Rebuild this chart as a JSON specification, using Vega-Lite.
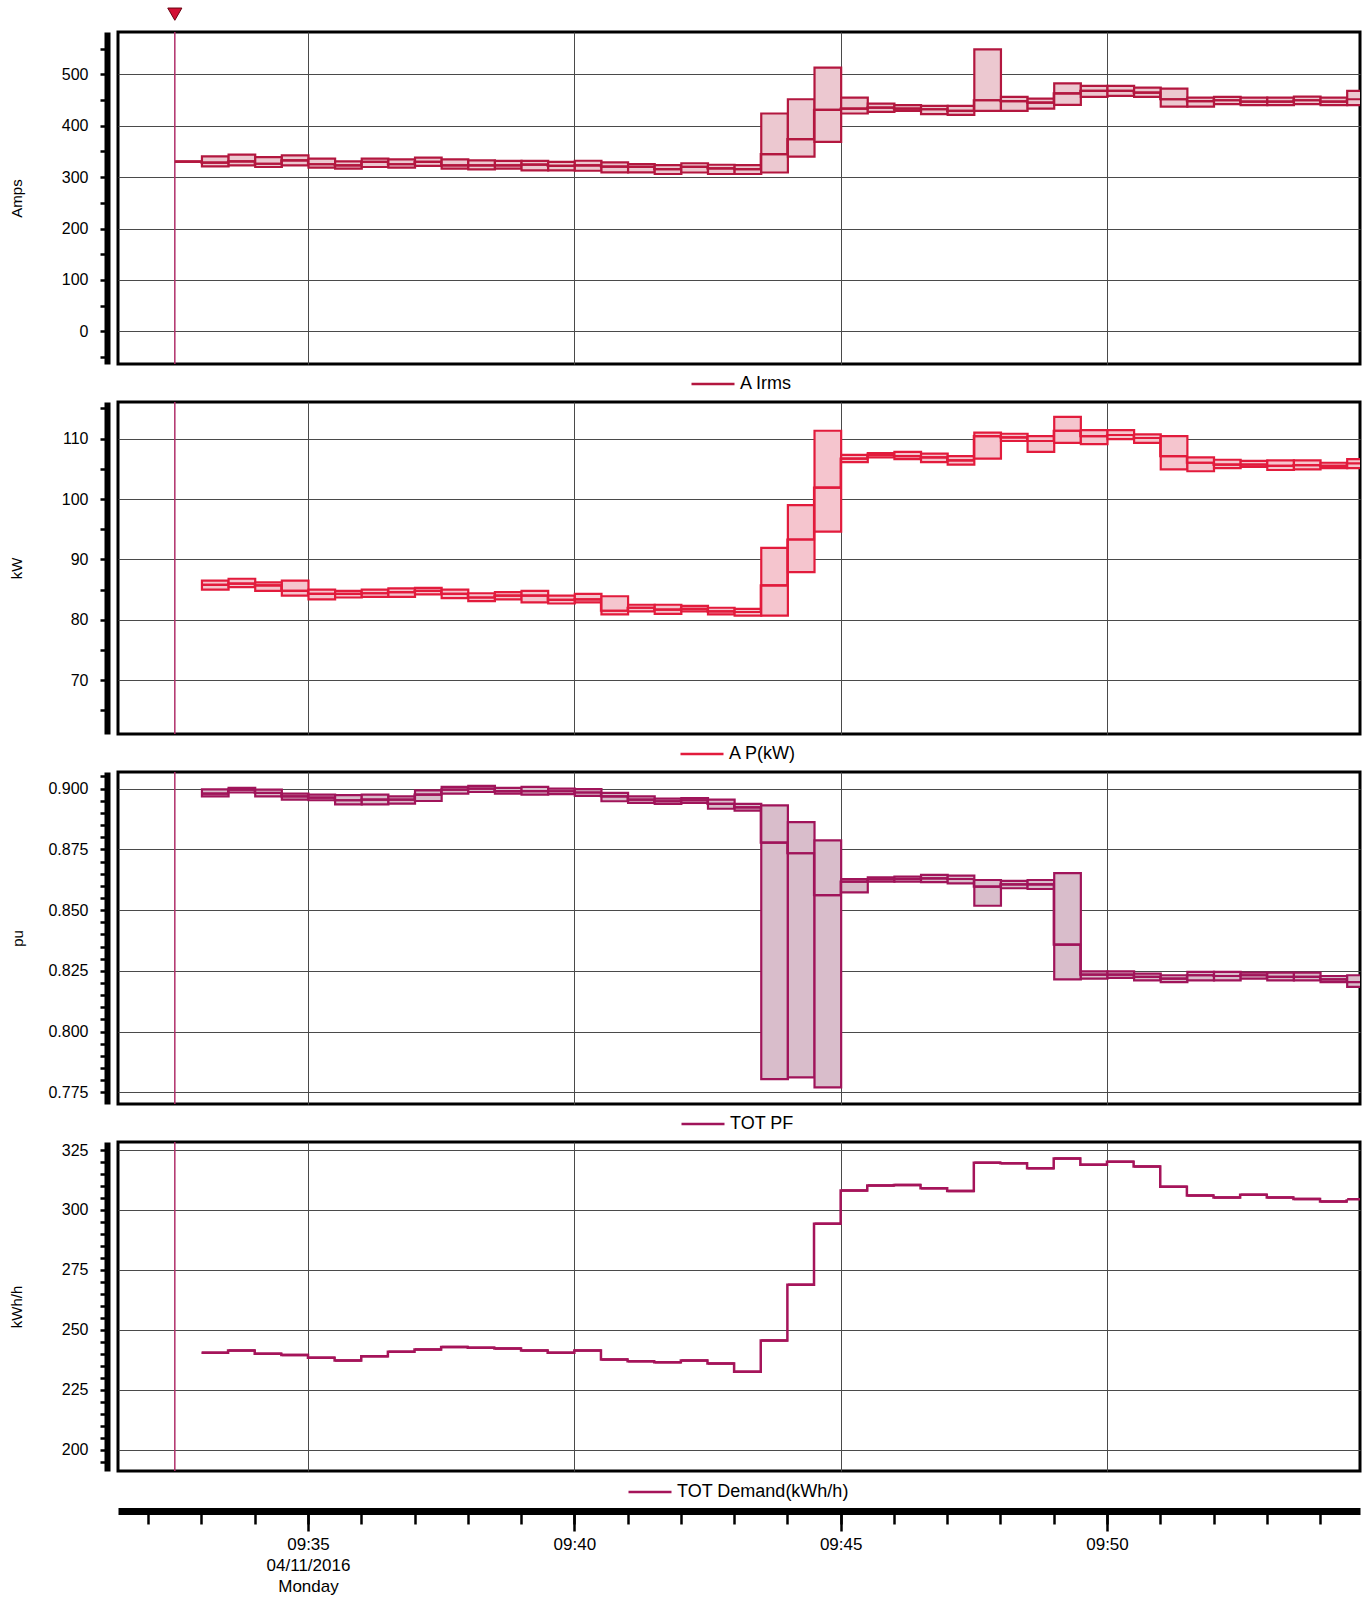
{
"$schema": "https://vega.github.io/schema/vega-lite/v6.json",
"background": "white",
"padding": {"left": 7, "top": 4, "right": 2, "bottom": 4},
"config": {
  "font": "Liberation Sans",
  "view": {"stroke": "black", "strokeWidth": 3},
  "axis": {"labelFont": "Liberation Sans", "titleFont": "Liberation Sans", "labelColor": "black", "titleColor": "black", "titleFontWeight": "normal", "gridColor": "#4a4a4a", "gridWidth": 1, "labelFontSize": 16, "titleFontSize": 15},
  "legend": {"labelFont": "Liberation Sans", "labelFontSize": 18, "labelColor": "black", "symbolType": "stroke", "symbolSize": 1849, "symbolStrokeWidth": 2.5, "labelOffset": 4, "labelLimit": 500}
},
"datasets": {
  "marker": [{"t": "2016-04-11T09:32:30"}],
  "amps": [
    {"t": "2016-04-11T09:32:30", "min": 330, "avg": 330, "max": 330},
    {"t": "2016-04-11T09:33:00", "min": 321, "avg": 328, "max": 340.5},
    {"t": "2016-04-11T09:33:30", "min": 323, "avg": 330.7, "max": 343.7},
    {"t": "2016-04-11T09:34:00", "min": 319.7, "avg": 326, "max": 339},
    {"t": "2016-04-11T09:34:30", "min": 323, "avg": 332.7, "max": 342.4},
    {"t": "2016-04-11T09:35:00", "min": 318.4, "avg": 325, "max": 336},
    {"t": "2016-04-11T09:35:30", "min": 316.5, "avg": 323, "max": 330.7},
    {"t": "2016-04-11T09:36:00", "min": 319.7, "avg": 329.5, "max": 336},
    {"t": "2016-04-11T09:36:30", "min": 318.4, "avg": 325, "max": 334.6},
    {"t": "2016-04-11T09:37:00", "min": 321.7, "avg": 329.5, "max": 338},
    {"t": "2016-04-11T09:37:30", "min": 316.5, "avg": 323, "max": 334.6},
    {"t": "2016-04-11T09:38:00", "min": 315, "avg": 323, "max": 332.7},
    {"t": "2016-04-11T09:38:30", "min": 316.5, "avg": 323, "max": 331.4},
    {"t": "2016-04-11T09:39:00", "min": 313.2, "avg": 324.3, "max": 331.4},
    {"t": "2016-04-11T09:39:30", "min": 313.2, "avg": 321.7, "max": 329.5},
    {"t": "2016-04-11T09:40:00", "min": 312.4, "avg": 323, "max": 331.8},
    {"t": "2016-04-11T09:40:30", "min": 309.2, "avg": 320.2, "max": 328.6},
    {"t": "2016-04-11T09:41:00", "min": 309.2, "avg": 320, "max": 325.3},
    {"t": "2016-04-11T09:41:30", "min": 306, "avg": 315.7, "max": 323.4},
    {"t": "2016-04-11T09:42:00", "min": 309, "avg": 320, "max": 327},
    {"t": "2016-04-11T09:42:30", "min": 306, "avg": 317, "max": 324},
    {"t": "2016-04-11T09:43:00", "min": 306, "avg": 315.7, "max": 323.4},
    {"t": "2016-04-11T09:43:30", "min": 309, "avg": 344.8, "max": 423.7},
    {"t": "2016-04-11T09:44:00", "min": 340, "avg": 374, "max": 451.5},
    {"t": "2016-04-11T09:44:30", "min": 368.7, "avg": 430.8, "max": 513},
    {"t": "2016-04-11T09:45:00", "min": 423.7, "avg": 433.4, "max": 454.7},
    {"t": "2016-04-11T09:45:30", "min": 427, "avg": 435.3, "max": 443},
    {"t": "2016-04-11T09:46:00", "min": 429, "avg": 433.4, "max": 440},
    {"t": "2016-04-11T09:46:30", "min": 422.4, "avg": 432, "max": 438.6},
    {"t": "2016-04-11T09:47:00", "min": 421, "avg": 428.8, "max": 438.6},
    {"t": "2016-04-11T09:47:30", "min": 428.8, "avg": 449.5, "max": 548.5},
    {"t": "2016-04-11T09:48:00", "min": 428.8, "avg": 448, "max": 456},
    {"t": "2016-04-11T09:48:30", "min": 433.4, "avg": 445, "max": 452.8},
    {"t": "2016-04-11T09:49:00", "min": 440.5, "avg": 463, "max": 482.5},
    {"t": "2016-04-11T09:49:30", "min": 456, "avg": 467.6, "max": 477.4},
    {"t": "2016-04-11T09:50:00", "min": 458, "avg": 467.6, "max": 477.4},
    {"t": "2016-04-11T09:50:30", "min": 456, "avg": 464.4, "max": 474},
    {"t": "2016-04-11T09:51:00", "min": 437, "avg": 451.5, "max": 472},
    {"t": "2016-04-11T09:51:30", "min": 437, "avg": 448, "max": 454.7},
    {"t": "2016-04-11T09:52:00", "min": 441.8, "avg": 449.5, "max": 456},
    {"t": "2016-04-11T09:52:30", "min": 440, "avg": 447, "max": 454.7},
    {"t": "2016-04-11T09:53:00", "min": 440, "avg": 447, "max": 454.7},
    {"t": "2016-04-11T09:53:30", "min": 441.8, "avg": 449.5, "max": 456.7},
    {"t": "2016-04-11T09:54:00", "min": 440, "avg": 447, "max": 454.7},
    {"t": "2016-04-11T09:54:30", "min": 440, "avg": 451.5, "max": 467.7}
  ],
  "kw": [
    {"t": "2016-04-11T09:33:00", "min": 85.0, "avg": 85.8, "max": 86.5},
    {"t": "2016-04-11T09:33:30", "min": 85.4, "avg": 86.0, "max": 86.8},
    {"t": "2016-04-11T09:34:00", "min": 84.8, "avg": 85.7, "max": 86.2},
    {"t": "2016-04-11T09:34:30", "min": 84.0, "avg": 84.8, "max": 86.5},
    {"t": "2016-04-11T09:35:00", "min": 83.4, "avg": 84.3, "max": 85.0},
    {"t": "2016-04-11T09:35:30", "min": 83.7, "avg": 84.3, "max": 84.8},
    {"t": "2016-04-11T09:36:00", "min": 83.8, "avg": 84.4, "max": 85.0},
    {"t": "2016-04-11T09:36:30", "min": 83.8, "avg": 84.6, "max": 85.2},
    {"t": "2016-04-11T09:37:00", "min": 84.2, "avg": 84.8, "max": 85.3},
    {"t": "2016-04-11T09:37:30", "min": 83.6, "avg": 84.3, "max": 85.0},
    {"t": "2016-04-11T09:38:00", "min": 83.1, "avg": 83.7, "max": 84.4},
    {"t": "2016-04-11T09:38:30", "min": 83.4, "avg": 84.0, "max": 84.6},
    {"t": "2016-04-11T09:39:00", "min": 82.9, "avg": 84.0, "max": 84.8},
    {"t": "2016-04-11T09:39:30", "min": 82.7, "avg": 83.3, "max": 84.0},
    {"t": "2016-04-11T09:40:00", "min": 82.9, "avg": 83.4, "max": 84.3},
    {"t": "2016-04-11T09:40:30", "min": 80.9, "avg": 81.5, "max": 83.9},
    {"t": "2016-04-11T09:41:00", "min": 81.4, "avg": 82.0, "max": 82.5},
    {"t": "2016-04-11T09:41:30", "min": 81.0, "avg": 81.7, "max": 82.5},
    {"t": "2016-04-11T09:42:00", "min": 81.4, "avg": 81.8, "max": 82.3},
    {"t": "2016-04-11T09:42:30", "min": 80.9, "avg": 81.4, "max": 82.0},
    {"t": "2016-04-11T09:43:00", "min": 80.7, "avg": 81.3, "max": 81.8},
    {"t": "2016-04-11T09:43:30", "min": 80.7, "avg": 85.7, "max": 91.9},
    {"t": "2016-04-11T09:44:00", "min": 87.9, "avg": 93.3, "max": 99.0},
    {"t": "2016-04-11T09:44:30", "min": 94.6, "avg": 101.9, "max": 111.3},
    {"t": "2016-04-11T09:45:00", "min": 106.1, "avg": 106.7, "max": 107.3},
    {"t": "2016-04-11T09:45:30", "min": 106.9, "avg": 107.3, "max": 107.6},
    {"t": "2016-04-11T09:46:00", "min": 106.6, "avg": 107.1, "max": 107.8},
    {"t": "2016-04-11T09:46:30", "min": 106.1, "avg": 106.9, "max": 107.5},
    {"t": "2016-04-11T09:47:00", "min": 105.7, "avg": 106.4, "max": 107.1},
    {"t": "2016-04-11T09:47:30", "min": 106.7, "avg": 110.4, "max": 111.0},
    {"t": "2016-04-11T09:48:00", "min": 109.6, "avg": 110.2, "max": 110.8},
    {"t": "2016-04-11T09:48:30", "min": 107.8, "avg": 109.6, "max": 110.4},
    {"t": "2016-04-11T09:49:00", "min": 109.3, "avg": 111.3, "max": 113.6},
    {"t": "2016-04-11T09:49:30", "min": 109.1, "avg": 110.4, "max": 111.4},
    {"t": "2016-04-11T09:50:00", "min": 109.9, "avg": 110.6, "max": 111.4},
    {"t": "2016-04-11T09:50:30", "min": 109.3, "avg": 110.1, "max": 110.7},
    {"t": "2016-04-11T09:51:00", "min": 104.9, "avg": 107.1, "max": 110.4},
    {"t": "2016-04-11T09:51:30", "min": 104.6, "avg": 106.0, "max": 106.9},
    {"t": "2016-04-11T09:52:00", "min": 105.1, "avg": 105.7, "max": 106.5},
    {"t": "2016-04-11T09:52:30", "min": 105.3, "avg": 105.7, "max": 106.3},
    {"t": "2016-04-11T09:53:00", "min": 104.8, "avg": 105.5, "max": 106.4},
    {"t": "2016-04-11T09:53:30", "min": 104.9, "avg": 105.6, "max": 106.4},
    {"t": "2016-04-11T09:54:00", "min": 105.1, "avg": 105.5, "max": 106.0},
    {"t": "2016-04-11T09:54:30", "min": 105.1, "avg": 105.9, "max": 106.6}
  ],
  "pf": [
    {"t": "2016-04-11T09:33:00", "min": 0.8968, "avg": 0.8979, "max": 0.8997},
    {"t": "2016-04-11T09:33:30", "min": 0.8984, "avg": 0.8996, "max": 0.9003},
    {"t": "2016-04-11T09:34:00", "min": 0.8968, "avg": 0.8982, "max": 0.8996},
    {"t": "2016-04-11T09:34:30", "min": 0.8955, "avg": 0.8968, "max": 0.8979},
    {"t": "2016-04-11T09:35:00", "min": 0.8952, "avg": 0.8963, "max": 0.8975},
    {"t": "2016-04-11T09:35:30", "min": 0.8935, "avg": 0.8952, "max": 0.8973},
    {"t": "2016-04-11T09:36:00", "min": 0.8935, "avg": 0.8955, "max": 0.8975},
    {"t": "2016-04-11T09:36:30", "min": 0.8938, "avg": 0.8955, "max": 0.8968},
    {"t": "2016-04-11T09:37:00", "min": 0.8949, "avg": 0.8975, "max": 0.8993},
    {"t": "2016-04-11T09:37:30", "min": 0.8979, "avg": 0.8996, "max": 0.9007},
    {"t": "2016-04-11T09:38:00", "min": 0.8986, "avg": 0.9000, "max": 0.9011},
    {"t": "2016-04-11T09:38:30", "min": 0.8979, "avg": 0.8990, "max": 0.9003},
    {"t": "2016-04-11T09:39:00", "min": 0.8975, "avg": 0.8990, "max": 0.9007},
    {"t": "2016-04-11T09:39:30", "min": 0.8977, "avg": 0.8989, "max": 0.9000},
    {"t": "2016-04-11T09:40:00", "min": 0.8970, "avg": 0.8984, "max": 0.8998},
    {"t": "2016-04-11T09:40:30", "min": 0.8948, "avg": 0.8968, "max": 0.8982},
    {"t": "2016-04-11T09:41:00", "min": 0.8941, "avg": 0.8955, "max": 0.8968},
    {"t": "2016-04-11T09:41:30", "min": 0.8937, "avg": 0.8948, "max": 0.8959},
    {"t": "2016-04-11T09:42:00", "min": 0.8941, "avg": 0.8952, "max": 0.8961},
    {"t": "2016-04-11T09:42:30", "min": 0.8917, "avg": 0.8937, "max": 0.8955},
    {"t": "2016-04-11T09:43:00", "min": 0.8909, "avg": 0.8923, "max": 0.8937},
    {"t": "2016-04-11T09:43:30", "min": 0.7805, "avg": 0.8778, "max": 0.8931},
    {"t": "2016-04-11T09:44:00", "min": 0.7812, "avg": 0.8734, "max": 0.8862},
    {"t": "2016-04-11T09:44:30", "min": 0.7771, "avg": 0.8562, "max": 0.8787},
    {"t": "2016-04-11T09:45:00", "min": 0.8573, "avg": 0.8617, "max": 0.8628},
    {"t": "2016-04-11T09:45:30", "min": 0.8617, "avg": 0.8627, "max": 0.8635},
    {"t": "2016-04-11T09:46:00", "min": 0.8617, "avg": 0.8628, "max": 0.8638},
    {"t": "2016-04-11T09:46:30", "min": 0.8615, "avg": 0.8631, "max": 0.8645},
    {"t": "2016-04-11T09:47:00", "min": 0.8610, "avg": 0.8628, "max": 0.8642},
    {"t": "2016-04-11T09:47:30", "min": 0.8518, "avg": 0.8597, "max": 0.8624},
    {"t": "2016-04-11T09:48:00", "min": 0.8590, "avg": 0.8606, "max": 0.8620},
    {"t": "2016-04-11T09:48:30", "min": 0.8587, "avg": 0.8606, "max": 0.8624},
    {"t": "2016-04-11T09:49:00", "min": 0.8215, "avg": 0.8358, "max": 0.8652},
    {"t": "2016-04-11T09:49:30", "min": 0.8218, "avg": 0.8235, "max": 0.8248},
    {"t": "2016-04-11T09:50:00", "min": 0.8221, "avg": 0.8235, "max": 0.8248},
    {"t": "2016-04-11T09:50:30", "min": 0.8211, "avg": 0.8225, "max": 0.8239},
    {"t": "2016-04-11T09:51:00", "min": 0.8204, "avg": 0.8218, "max": 0.8232},
    {"t": "2016-04-11T09:51:30", "min": 0.8211, "avg": 0.8232, "max": 0.8246},
    {"t": "2016-04-11T09:52:00", "min": 0.8211, "avg": 0.8229, "max": 0.8246},
    {"t": "2016-04-11T09:52:30", "min": 0.8218, "avg": 0.8232, "max": 0.8243},
    {"t": "2016-04-11T09:53:00", "min": 0.8211, "avg": 0.8225, "max": 0.8243},
    {"t": "2016-04-11T09:53:30", "min": 0.8211, "avg": 0.8225, "max": 0.8243},
    {"t": "2016-04-11T09:54:00", "min": 0.8204, "avg": 0.8215, "max": 0.8229},
    {"t": "2016-04-11T09:54:30", "min": 0.8184, "avg": 0.8204, "max": 0.8232}
  ],
  "demand": [
    {"t": "2016-04-11T09:33:00", "v": 240.4},
    {"t": "2016-04-11T09:33:30", "v": 241.4},
    {"t": "2016-04-11T09:34:00", "v": 240.0},
    {"t": "2016-04-11T09:34:30", "v": 239.5},
    {"t": "2016-04-11T09:35:00", "v": 238.4},
    {"t": "2016-04-11T09:35:30", "v": 237.2},
    {"t": "2016-04-11T09:36:00", "v": 239.0},
    {"t": "2016-04-11T09:36:30", "v": 240.9},
    {"t": "2016-04-11T09:37:00", "v": 241.8},
    {"t": "2016-04-11T09:37:30", "v": 242.8},
    {"t": "2016-04-11T09:38:00", "v": 242.5},
    {"t": "2016-04-11T09:38:30", "v": 242.2},
    {"t": "2016-04-11T09:39:00", "v": 241.4},
    {"t": "2016-04-11T09:39:30", "v": 240.4},
    {"t": "2016-04-11T09:40:00", "v": 241.4},
    {"t": "2016-04-11T09:40:30", "v": 237.6},
    {"t": "2016-04-11T09:41:00", "v": 236.9},
    {"t": "2016-04-11T09:41:30", "v": 236.5},
    {"t": "2016-04-11T09:42:00", "v": 237.2},
    {"t": "2016-04-11T09:42:30", "v": 236.0},
    {"t": "2016-04-11T09:43:00", "v": 232.5},
    {"t": "2016-04-11T09:43:30", "v": 245.5},
    {"t": "2016-04-11T09:44:00", "v": 268.8},
    {"t": "2016-04-11T09:44:30", "v": 294.2},
    {"t": "2016-04-11T09:45:00", "v": 308.1},
    {"t": "2016-04-11T09:45:30", "v": 310.2},
    {"t": "2016-04-11T09:46:00", "v": 310.4},
    {"t": "2016-04-11T09:46:30", "v": 309.1},
    {"t": "2016-04-11T09:47:00", "v": 307.9},
    {"t": "2016-04-11T09:47:30", "v": 319.7},
    {"t": "2016-04-11T09:48:00", "v": 319.5},
    {"t": "2016-04-11T09:48:30", "v": 317.4},
    {"t": "2016-04-11T09:49:00", "v": 321.5},
    {"t": "2016-04-11T09:49:30", "v": 318.8},
    {"t": "2016-04-11T09:50:00", "v": 320.1},
    {"t": "2016-04-11T09:50:30", "v": 318.1},
    {"t": "2016-04-11T09:51:00", "v": 309.7},
    {"t": "2016-04-11T09:51:30", "v": 306.0},
    {"t": "2016-04-11T09:52:00", "v": 305.2},
    {"t": "2016-04-11T09:52:30", "v": 306.3},
    {"t": "2016-04-11T09:53:00", "v": 305.2},
    {"t": "2016-04-11T09:53:30", "v": 304.6},
    {"t": "2016-04-11T09:54:00", "v": 303.5},
    {"t": "2016-04-11T09:54:30", "v": 304.5}
  ]
},
"bounds": "flush",
"spacing": 38,
"resolve": {"scale": {"x": "independent", "y": "independent", "color": "independent"}, "axis": {"x": "independent", "y": "independent"}, "legend": {"color": "independent"}},
"vconcat": [
  {
    "width": 1242, "height": 332,
    "data": {"name": "amps"},
    "resolve": {"axis": {"y": "independent"}},
    "layer": [
      {"data": {"name": "marker"}, "mark": {"type": "rule", "color": "#B0306A", "strokeWidth": 1.5},
       "encoding": {"x": {"field": "t", "type": "temporal", "title": null,
         "scale": {"domain": ["2016-04-11T09:31:26", "2016-04-11T09:54:45"]},
         "axis": {"title": null, "labels": false, "ticks": false, "domain": false, "grid": true, "values": ["2016-04-11T09:35:00", "2016-04-11T09:40:00", "2016-04-11T09:45:00", "2016-04-11T09:50:00"]}}}},
      {"mark": {"type": "rect", "fill": "#ECC8D0", "stroke": "#B3173F", "strokeWidth": 2.2, "clip": true},
       "encoding": {"x": {"field": "t", "type": "temporal", "title": null, "timeUnit": {"unit": "yearmonthdatehoursminutesseconds", "step": 30}},
         "y": {"field": "min", "type": "quantitative", "title": "Amps",
           "scale": {"domain": [-63.6, 582.3], "nice": false, "zero": false},
           "axis": {"orient": "left", "title": "Amps", "values": [-50, 0, 50, 100, 150, 200, 250, 300, 350, 400, 450, 500, 550], "labelExpr": "datum.value % 100 == 0 ? datum.label : ''", "labelOverlap": false, "offset": 11, "domainColor": "black", "domainWidth": 6, "tickColor": "black", "tickWidth": 2.5, "tickSize": 7, "labelPadding": 12, "grid": false, "titlePadding": 37}},
         "y2": {"field": "max"}}},
      {"mark": {"type": "rect", "fillOpacity": 0, "stroke": "#B3173F", "strokeWidth": 2.2, "clip": true},
       "encoding": {"x": {"field": "t", "type": "temporal", "title": null, "timeUnit": {"unit": "yearmonthdatehoursminutesseconds", "step": 30}},
         "y": {"field": "avg", "type": "quantitative", "title": "Amps", "axis": null}, "y2": {"field": "avg"}}},
      {"mark": {"type": "line", "interpolate": "step-after", "strokeWidth": 2.2, "clip": true},
       "encoding": {"x": {"field": "t", "type": "temporal", "title": null},
         "y": {"field": "avg", "type": "quantitative", "title": null,
           "axis": {"orient": "left", "title": null, "values": [0, 100, 200, 300, 400, 500], "labels": false, "ticks": false, "domain": false, "grid": true}},
         "color": {"datum": "A Irms", "scale": {"range": ["#B3173F"]}, "legend": {"orient": "none", "legendX": 572, "legendY": 329, "title": null}}}},
      {"data": {"name": "marker"}, "mark": {"type": "point", "shape": "triangle-down", "filled": true, "size": 200, "fill": "#D31034", "stroke": "#6a0010", "strokeWidth": 1, "opacity": 1},
       "encoding": {"x": {"field": "t", "type": "temporal", "title": null}, "y": {"datum": 617, "axis": null}}}
    ]
  },
  {
    "width": 1242, "height": 332,
    "data": {"name": "kw"},
    "resolve": {"axis": {"y": "independent"}},
    "layer": [
      {"data": {"name": "marker"}, "mark": {"type": "rule", "color": "#B0306A", "strokeWidth": 1.5},
       "encoding": {"x": {"field": "t", "type": "temporal", "title": null,
         "scale": {"domain": ["2016-04-11T09:31:26", "2016-04-11T09:54:45"]},
         "axis": {"title": null, "labels": false, "ticks": false, "domain": false, "grid": true, "values": ["2016-04-11T09:35:00", "2016-04-11T09:40:00", "2016-04-11T09:45:00", "2016-04-11T09:50:00"]}}}},
      {"mark": {"type": "rect", "fill": "#F5C5CE", "stroke": "#E21B3C", "strokeWidth": 2.2, "clip": true},
       "encoding": {"x": {"field": "t", "type": "temporal", "title": null, "timeUnit": {"unit": "yearmonthdatehoursminutesseconds", "step": 30}},
         "y": {"field": "min", "type": "quantitative", "title": "kW",
           "scale": {"domain": [61.1, 116.06], "nice": false, "zero": false},
           "axis": {"orient": "left", "title": "kW", "values": [65, 70, 75, 80, 85, 90, 95, 100, 105, 110, 115], "labelExpr": "datum.value % 10 == 0 ? datum.label : ''", "labelOverlap": false, "offset": 11, "domainColor": "black", "domainWidth": 6, "tickColor": "black", "tickWidth": 2.5, "tickSize": 7, "labelPadding": 12, "grid": false, "titlePadding": 37}},
         "y2": {"field": "max"}}},
      {"mark": {"type": "rect", "fillOpacity": 0, "stroke": "#E21B3C", "strokeWidth": 2.2, "clip": true},
       "encoding": {"x": {"field": "t", "type": "temporal", "title": null, "timeUnit": {"unit": "yearmonthdatehoursminutesseconds", "step": 30}},
         "y": {"field": "avg", "type": "quantitative", "title": "kW", "axis": null}, "y2": {"field": "avg"}}},
      {"mark": {"type": "line", "interpolate": "step-after", "strokeWidth": 2.2, "clip": true},
       "encoding": {"x": {"field": "t", "type": "temporal", "title": null},
         "y": {"field": "avg", "type": "quantitative", "title": null,
           "axis": {"orient": "left", "title": null, "values": [70, 80, 90, 100, 110], "labels": false, "ticks": false, "domain": false, "grid": true}},
         "color": {"datum": "A P(kW)", "scale": {"range": ["#E21B3C"]}, "legend": {"orient": "none", "legendX": 561, "legendY": 329, "title": null}}}}
    ]
  },
  {
    "width": 1242, "height": 332,
    "data": {"name": "pf"},
    "resolve": {"axis": {"y": "independent"}},
    "layer": [
      {"data": {"name": "marker"}, "mark": {"type": "rule", "color": "#B0306A", "strokeWidth": 1.5},
       "encoding": {"x": {"field": "t", "type": "temporal", "title": null,
         "scale": {"domain": ["2016-04-11T09:31:26", "2016-04-11T09:54:45"]},
         "axis": {"title": null, "labels": false, "ticks": false, "domain": false, "grid": true, "values": ["2016-04-11T09:35:00", "2016-04-11T09:40:00", "2016-04-11T09:45:00", "2016-04-11T09:50:00"]}}}},
      {"mark": {"type": "rect", "fill": "#D9BDCB", "stroke": "#A0145A", "strokeWidth": 2.2, "clip": true},
       "encoding": {"x": {"field": "t", "type": "temporal", "title": null, "timeUnit": {"unit": "yearmonthdatehoursminutesseconds", "step": 30}},
         "y": {"field": "min", "type": "quantitative", "title": "pu",
           "scale": {"domain": [0.77023, 0.90683], "nice": false, "zero": false},
           "axis": {"orient": "left", "title": "pu", "format": ".3f", "values": [0.775, 0.78, 0.785, 0.79, 0.795, 0.8, 0.805, 0.81, 0.815, 0.82, 0.825, 0.83, 0.835, 0.84, 0.845, 0.85, 0.855, 0.86, 0.865, 0.87, 0.875, 0.88, 0.885, 0.89, 0.895, 0.9, 0.905], "labelExpr": "round(datum.value * 1000) % 25 == 0 ? datum.label : ''", "labelOverlap": false, "offset": 11, "domainColor": "black", "domainWidth": 6, "tickColor": "black", "tickWidth": 2.5, "tickSize": 7, "labelPadding": 12, "grid": false, "titlePadding": 22}},
         "y2": {"field": "max"}}},
      {"mark": {"type": "rect", "fillOpacity": 0, "stroke": "#A0145A", "strokeWidth": 2.2, "clip": true},
       "encoding": {"x": {"field": "t", "type": "temporal", "title": null, "timeUnit": {"unit": "yearmonthdatehoursminutesseconds", "step": 30}},
         "y": {"field": "avg", "type": "quantitative", "title": "pu", "axis": null}, "y2": {"field": "avg"}}},
      {"mark": {"type": "line", "interpolate": "step-after", "strokeWidth": 2.2, "clip": true},
       "encoding": {"x": {"field": "t", "type": "temporal", "title": null},
         "y": {"field": "avg", "type": "quantitative", "title": null,
           "axis": {"orient": "left", "title": null, "values": [0.775, 0.8, 0.825, 0.85, 0.875, 0.9], "labels": false, "ticks": false, "domain": false, "grid": true}},
         "color": {"datum": "TOT PF", "scale": {"range": ["#A0145A"]}, "legend": {"orient": "none", "legendX": 562, "legendY": 329, "title": null}}}}
    ]
  },
  {
    "width": 1242, "height": 329,
    "data": {"name": "demand"},
    "resolve": {"axis": {"x": "independent", "y": "independent"}},
    "layer": [
      {"data": {"name": "marker"}, "mark": {"type": "rule", "color": "#B0306A", "strokeWidth": 1.5},
       "encoding": {"x": {"field": "t", "type": "temporal", "title": null,
         "scale": {"domain": ["2016-04-11T09:31:26", "2016-04-11T09:54:45"]},
         "axis": {"title": null, "orient": "bottom", "offset": 40, "domain": true, "domainWidth": 7, "domainColor": "black", "ticks": true, "tickColor": "black", "tickWidth": 2.5, "tickSize": 13, "grid": false, "labels": false,
           "values": ["2016-04-11T09:32:00", "2016-04-11T09:33:00", "2016-04-11T09:34:00", "2016-04-11T09:35:00", "2016-04-11T09:36:00", "2016-04-11T09:37:00", "2016-04-11T09:38:00", "2016-04-11T09:39:00", "2016-04-11T09:40:00", "2016-04-11T09:41:00", "2016-04-11T09:42:00", "2016-04-11T09:43:00", "2016-04-11T09:44:00", "2016-04-11T09:45:00", "2016-04-11T09:46:00", "2016-04-11T09:47:00", "2016-04-11T09:48:00", "2016-04-11T09:49:00", "2016-04-11T09:50:00", "2016-04-11T09:51:00", "2016-04-11T09:52:00", "2016-04-11T09:53:00", "2016-04-11T09:54:00"]}}}},
      {"mark": {"type": "line", "interpolate": "step-after", "strokeWidth": 2.5, "clip": true},
       "encoding": {"x": {"field": "t", "type": "temporal", "title": null,
           "axis": {"title": null, "orient": "bottom", "offset": 40, "domain": false, "ticks": true, "tickColor": "black", "tickWidth": 2.5, "tickSize": 20, "grid": true,
             "values": ["2016-04-11T09:35:00", "2016-04-11T09:40:00", "2016-04-11T09:45:00", "2016-04-11T09:50:00"],
             "labelExpr": "minutes(datum.value) == 35 ? [timeFormat(datum.value, '%H:%M'), timeFormat(datum.value, '%m/%d/%Y'), timeFormat(datum.value, '%A')] : timeFormat(datum.value, '%H:%M')",
             "labelFontSize": 17, "labelPadding": 5, "labelLineHeight": 21}},
         "y": {"field": "v", "type": "quantitative", "title": "kWh/h",
           "scale": {"domain": [191.12, 328.34], "nice": false, "zero": false},
           "axis": {"orient": "left", "title": "kWh/h", "values": [195, 200, 205, 210, 215, 220, 225, 230, 235, 240, 245, 250, 255, 260, 265, 270, 275, 280, 285, 290, 295, 300, 305, 310, 315, 320, 325], "labelExpr": "datum.value % 25 == 0 ? datum.label : ''", "labelOverlap": false, "offset": 11, "domainColor": "black", "domainWidth": 6, "tickColor": "black", "tickWidth": 2.5, "tickSize": 7, "labelPadding": 12, "grid": false, "titlePadding": 37}},
         "color": {"datum": "TOT Demand(kWh/h)", "scale": {"range": ["#A5145A"]}, "legend": {"orient": "none", "legendX": 509, "legendY": 327, "title": null}}}},
      {"mark": {"type": "rect", "fillOpacity": 0, "stroke": "#A5145A", "strokeWidth": 2.5, "clip": true},
       "encoding": {"x": {"field": "t", "type": "temporal", "title": null, "timeUnit": {"unit": "yearmonthdatehoursminutesseconds", "step": 30}, "axis": null},
         "y": {"field": "v", "type": "quantitative", "title": null,
           "axis": {"orient": "left", "title": null, "values": [200, 225, 250, 275, 300, 325], "labels": false, "ticks": false, "domain": false, "grid": true}},
         "y2": {"field": "v"}}}
    ]
  }
]
}
